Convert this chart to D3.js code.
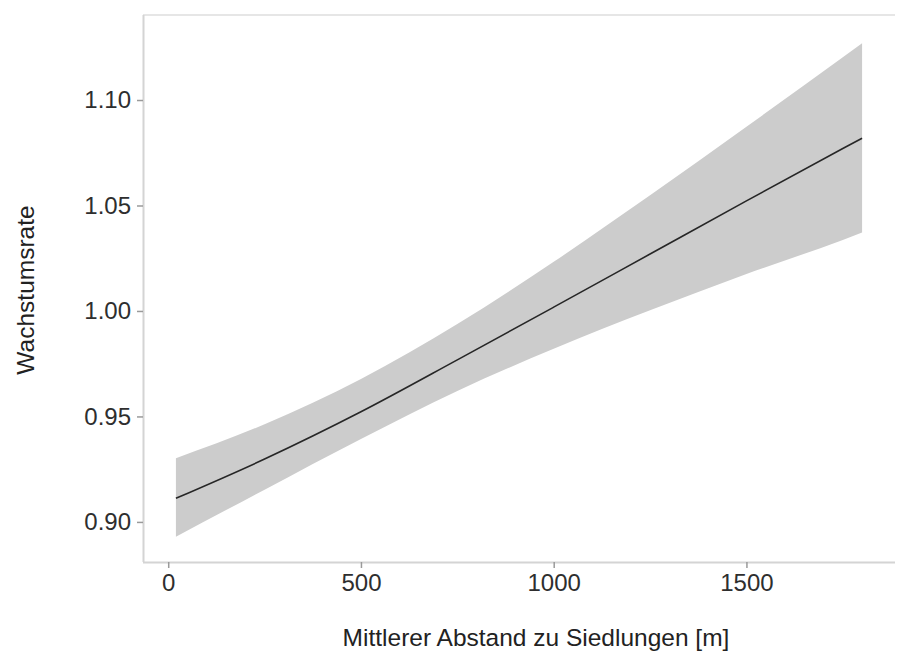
<!DOCTYPE html>
<html>
<head>
<meta charset="utf-8">
<script src="https://cdn.jsdelivr.net/npm/d3@7"></script>
<style>
  html, body { margin: 0; padding: 0; background: #fff; }
  svg { display: block; font-family: "Liberation Sans", Arial, sans-serif; }
</style>
</head>
<body>
<svg id="chart" width="901" height="660"></svg>
<script>
// Data
const distance = [20, 250, 500, 750, 1000, 1250, 1500, 1750, 1800];
const fitted   = [0.9112, 0.9298, 0.9522, 0.9768, 1.0018, 1.0270, 1.0522, 1.0770, 1.0819];
const lower    = [0.8930, 0.9153, 0.9393, 0.9621, 0.9821, 1.0003, 1.0175, 1.0337, 1.0372];
const upper    = [0.9302, 0.9463, 0.9678, 0.9938, 1.0233, 1.0548, 1.0873, 1.1203, 1.1269];
const xTicks = [0, 500, 1000, 1500];
const yTicks = [0.90, 0.95, 1.00, 1.05, 1.10];
const xTitle = "Mittlerer Abstand zu Siedlungen [m]";
const yTitle = "Wachstumsrate";

(function () {
  const rows = distance.map((d, i) => ({ x: d, fit: fitted[i], lo: lower[i], hi: upper[i] }));

  const svg = d3.select("#chart");
  const pLeft = 143, pRight = 896, pTop = 15, pBottom = 562;

  const x = d3.scaleLinear().domain([-65.4, 1888]).range([pLeft, pRight]);
  const y = d3.scaleLinear().domain([0.8810, 1.1403]).range([pBottom, pTop]);

  // band
  svg.append("path")
    .datum(rows)
    .attr("fill", "#cccccc")
    .attr("d", d3.area()
      .x(d => x(d.x))
      .y0(d => y(d.lo))
      .y1(d => y(d.hi))
      .curve(d3.curveMonotoneX));

  // fitted line
  svg.append("path")
    .datum(rows)
    .attr("fill", "none")
    .attr("stroke", "#262626")
    .attr("stroke-width", 1.6)
    .attr("d", d3.line()
      .x(d => x(d.x))
      .y(d => y(d.fit))
      .curve(d3.curveMonotoneX));

  // top border line
  svg.append("line")
    .attr("x1", pLeft).attr("x2", pRight - 1)
    .attr("y1", pTop).attr("y2", pTop)
    .attr("stroke", "#e6e6e6").attr("stroke-width", 2);

  // axes
  const xAxis = d3.axisBottom(x).tickValues(xTicks).tickSize(6).tickPadding(6).tickFormat(d3.format("d"));
  const yAxis = d3.axisLeft(y).tickValues(yTicks).tickSize(6).tickPadding(6).tickFormat(d3.format(".2f"));

  const gx = svg.append("g").attr("transform", `translate(0,${pBottom})`).call(xAxis);
  const gy = svg.append("g").attr("transform", `translate(${pLeft},0)`).call(yAxis);

  [gx, gy].forEach(g => {
    g.select(".domain").attr("stroke", "#d4d4d4").attr("stroke-width", 2);
    g.selectAll(".tick line").attr("stroke", "#9a9a9a").attr("stroke-width", 1.5);
    g.selectAll(".tick text")
      .attr("fill", "#2e2e2e")
      .style("font-size", "24px")
      .style("font-family", "'Liberation Sans', Arial, sans-serif");
  });
  gx.select(".domain").attr("d", `M${pLeft},0.5H${pRight - 1}`);
  gy.select(".domain").attr("d", `M0.5,${pBottom}V${pTop}`);

  // axis titles
  svg.append("text")
    .attr("x", 536).attr("y", 646)
    .attr("text-anchor", "middle")
    .attr("fill", "#222222")
    .style("font-size", "24.5px")
    .text(xTitle);

  svg.append("text")
    .attr("transform", `translate(34,290) rotate(-90)`)
    .attr("text-anchor", "middle")
    .attr("fill", "#222222")
    .style("font-size", "24.5px")
    .text(yTitle);
})();
</script>
</body>
</html>
